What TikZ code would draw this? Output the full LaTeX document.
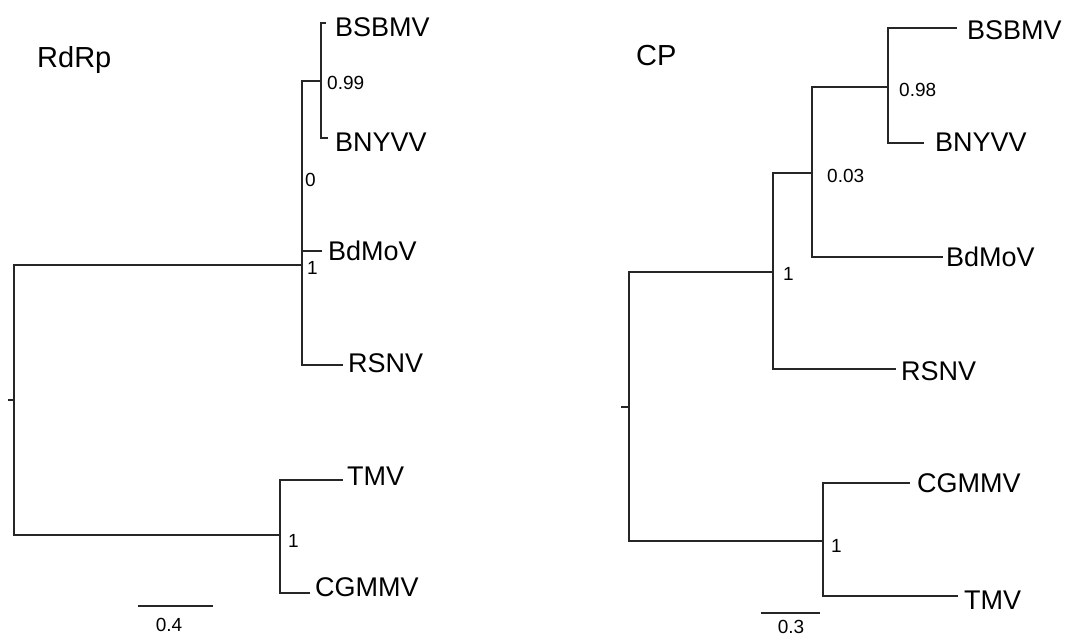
\documentclass[tikz,border=0pt]{standalone}
\usepackage{fontspec}
\setmainfont{Liberation Sans}
\begin{document}
\begin{tikzpicture}[x=1pt,y=-1pt,
  branch/.style={line width=1.3pt, draw=black!85, line cap=rect},
  leaf/.style={font=\fontsize{27}{27}\selectfont, anchor=west, inner sep=0pt},
  support/.style={font=\fontsize{19}{19}\selectfont, anchor=west, inner sep=0pt},
  scalelab/.style={font=\fontsize{19}{19}\selectfont, anchor=center, inner sep=0pt},
  title/.style={font=\fontsize{29}{29}\selectfont, anchor=base west, inner sep=0pt}]
\useasboundingbox (0,0) rectangle (1074,634);
% ---------------- RdRp tree ----------------
\node[title] (tRdRp) at (37,68) {RdRp};
\coordinate (Lrt) at (9,400);
\coordinate (Lroot) at (14,400);
\coordinate (Lu) at (302,265);
\coordinate (Ll) at (280,535);
\coordinate (Lb) at (321,81);
\coordinate (Lbsbmv) at (325,23);
\coordinate (Lbnyvv) at (327,138);
\coordinate (Lbdmov) at (322,251);
\coordinate (Lrsnv) at (342,365);
\coordinate (Ltmv) at (342,480);
\coordinate (Lcgmmv) at (309,593);
\draw[branch] (Lrt) -- (Lroot);
\draw[branch] (Lu) -| (Lroot) |- (Ll);
\draw[branch] (Lb) -| (Lu) |- (Lrsnv);
\draw[branch, line width=2.6pt, line cap=butt] (Lbdmov) -- (Lbdmov -| Lu);
\draw[branch] (Lbsbmv) -| (Lb) |- (Lbnyvv);
\draw[branch] (Ltmv) -| (Ll) |- (Lcgmmv);
\node[leaf] (nLbsbmv) at (335,27) {BSBMV};
\node[leaf] (nLbnyvv) at (335,142) {BNYVV};
\node[leaf] (nLbdmov) at (328,251) {BdMoV};
\node[leaf] (nLrsnv) at (348,363) {RSNV};
\node[leaf] (nLtmv) at (347,476) {TMV};
\node[leaf] (nLcgmmv) at (315,587) {CGMMV};
\node[support] (sL1) at (327,83) {0.99};
\node[support] (sL2) at (305,180) {0};
\node[support] (sL3) at (307,268) {1};
\node[support] (sL4) at (288,541) {1};
\coordinate (Ls1) at (138,606);
\coordinate (Ls2) at (213,606);
\draw[branch, line cap=butt] (Ls1) -- (Ls2);
\node[scalelab] (lLs) at (169,625) {0.4};
% ---------------- CP tree ----------------
\node[title] (tCP) at (636,66) {CP};
\coordinate (Rrt) at (622,407);
\coordinate (Rroot) at (629,407);
\coordinate (Ru) at (773,272);
\coordinate (Rl) at (823,541);
\coordinate (Rm) at (812,173);
\coordinate (Rb) at (888,87);
\coordinate (Rbsbmv) at (956,28);
\coordinate (Rbnyvv) at (923,143);
\coordinate (Rbdmov) at (942,257);
\coordinate (Rrsnv) at (895,369);
\coordinate (Rcgmmv) at (909,483);
\coordinate (Rtmv) at (957,596);
\draw[branch] (Rrt) -- (Rroot);
\draw[branch] (Ru) -| (Rroot) |- (Rl);
\draw[branch] (Rm) -| (Ru) |- (Rrsnv);
\draw[branch] (Rb) -| (Rm) |- (Rbdmov);
\draw[branch] (Rbsbmv) -| (Rb) |- (Rbnyvv);
\draw[branch] (Rcgmmv) -| (Rl) |- (Rtmv);
\node[leaf] (nRbsbmv) at (967,30) {BSBMV};
\node[leaf] (nRbnyvv) at (935,142) {BNYVV};
\node[leaf] (nRbdmov) at (946,257) {BdMoV};
\node[leaf] (nRrsnv) at (901,371) {RSNV};
\node[leaf] (nRcgmmv) at (917,483) {CGMMV};
\node[leaf] (nRtmv) at (964,600) {TMV};
\node[support] (sR1) at (899,90) {0.98};
\node[support] (sR2) at (827,176) {0.03};
\node[support] (sR3) at (783,274) {1};
\node[support] (sR4) at (831,546) {1};
\coordinate (Rs1) at (761,613);
\coordinate (Rs2) at (820,613);
\draw[branch, line cap=butt] (Rs1) -- (Rs2);
\node[scalelab] (lRs) at (791,627) {0.3};
\end{tikzpicture}
\end{document}
